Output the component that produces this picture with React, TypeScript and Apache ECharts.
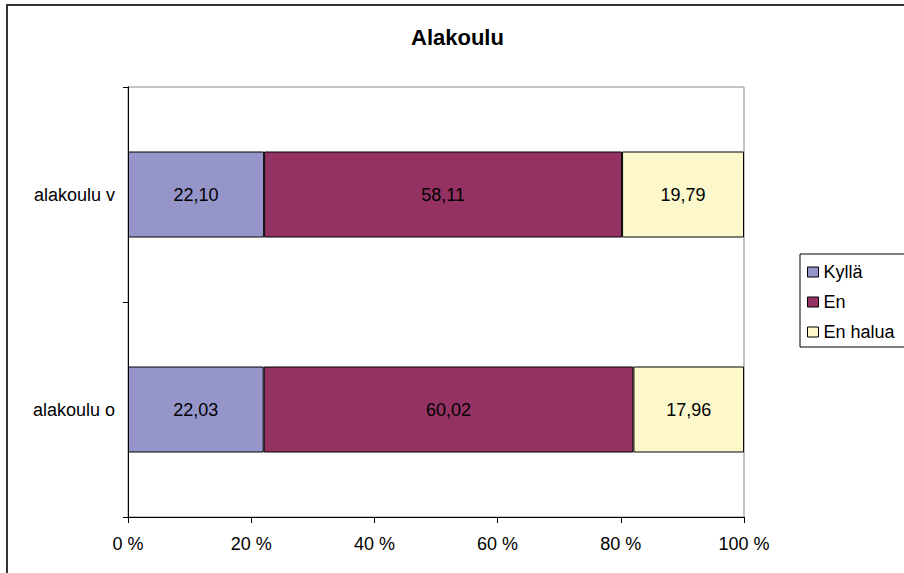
import React, { useEffect, useRef } from "react";
import * as echarts from "echarts";

const categories = ["alakoulu v", "alakoulu o"];
const kylla = [22.1, 22.03];
const en = [58.11, 60.02];
const enHalua = [19.79, 17.96];
const seriesNames = ["Kyllä", "En", "En halua"];
const colors = ["#9595C9", "#943363", "#FCF8CC"];

const FONT = "'Liberation Sans', Arial, sans-serif";

const fmt = (v: number) => v.toFixed(2).replace(".", ",");

export default function App() {
  const ref = useRef<HTMLDivElement>(null);
  useEffect(() => {
    if (!ref.current) return;
    const chart = echarts.init(ref.current, null, { renderer: "svg" });
    const data = [kylla, en, enHalua];
    chart.setOption({
      animation: false,
      backgroundColor: "#ffffff",
      textStyle: { fontFamily: FONT },
      title: {
        text: "Alakoulu",
        left: 411,
        top: 26,
        padding: 0,
        textStyle: { fontFamily: FONT, fontSize: 22, fontWeight: "bold", color: "#000" },
      },
      graphic: [
        {
          type: "rect",
          shape: { x: 7, y: 5, width: 1000, height: 1000 },
          style: { fill: "none", stroke: "#333", lineWidth: 2 },
          silent: true,
        },
      ],
      legend: {
        orient: "vertical",
        left: 800,
        top: 254,
        padding: [9, 12, 6, 7],
        itemGap: 12,
        itemWidth: 11,
        itemHeight: 10,
        borderColor: "#000",
        borderWidth: 1,
        backgroundColor: "#fff",
        icon: "rect",
        itemStyle: { borderColor: "#000", borderWidth: 1 },
        textStyle: { fontFamily: FONT, fontSize: 18, color: "#000" },
        data: seriesNames,
      },
      grid: {
        left: 128,
        right: 160,
        top: 87,
        bottom: 56,
        show: true,
        borderColor: "#888",
        borderWidth: 1,
        backgroundColor: "transparent",
      },
      xAxis: {
        type: "value",
        min: 0,
        max: 100,
        interval: 20,
        splitLine: { show: false },
        axisLine: { show: true, lineStyle: { color: "#000", width: 1 } },
        axisTick: { show: true, length: 6, lineStyle: { color: "#000" } },
        axisLabel: {
          formatter: "{value} %",
          fontFamily: FONT,
          fontSize: 18,
          color: "#000",
          margin: 18,
        },
      },
      yAxis: {
        type: "category",
        inverse: true,
        data: categories,
        axisLine: { show: true, lineStyle: { color: "#000", width: 1 } },
        axisTick: { show: true, length: 5, lineStyle: { color: "#000" } },
        axisLabel: { fontFamily: FONT, fontSize: 18, color: "#000", margin: 13 },
      },
      series: seriesNames.map((name, i) => ({
        name,
        type: "bar",
        stack: "total",
        barWidth: "40%",
        data: data[i],
        itemStyle: { color: colors[i], borderColor: "#000", borderWidth: 1 },
        label: {
          show: true,
          position: "inside",
          fontFamily: FONT,
          fontSize: 18,
          color: "#000",
          formatter: (p: any) => fmt(p.value),
        },
      })),
    });
    return () => chart.dispose();
  }, []);
  return (
    <div
      ref={ref}
      style={{ position: "fixed", left: 0, top: 0, width: 904, height: 573, background: "#fff" }}
    />
  );
}
